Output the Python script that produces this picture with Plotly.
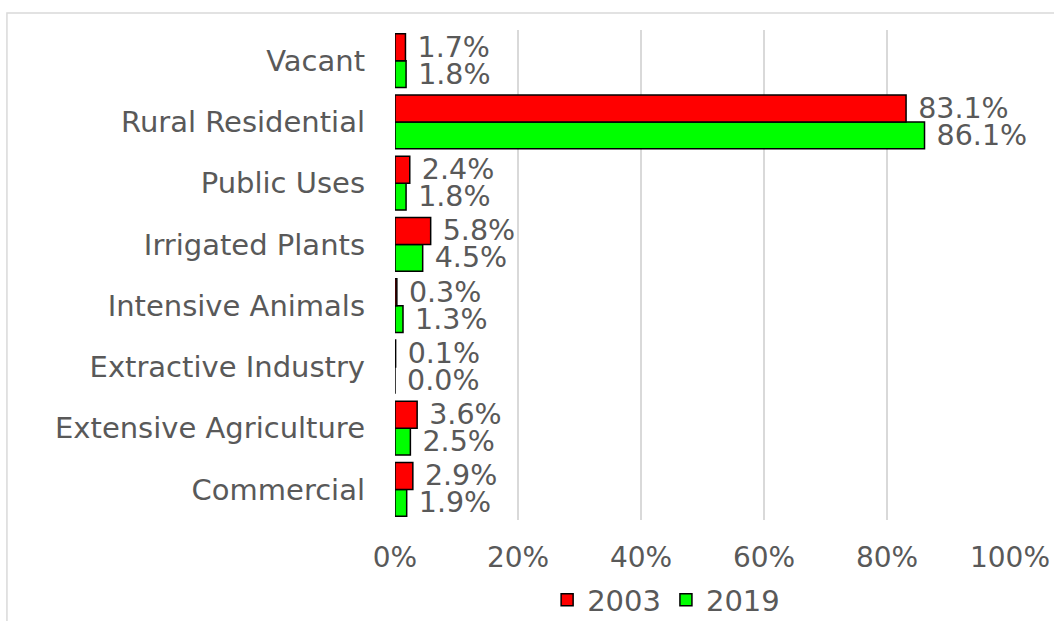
import plotly.graph_objects as go

categories = ["Commercial", "Extensive Agriculture", "Extractive Industry",
              "Intensive Animals", "Irrigated Plants", "Public Uses",
              "Rural Residential", "Vacant"]
values_2003 = [2.9, 3.6, 0.1, 0.3, 5.8, 2.4, 83.1, 1.7]
values_2019 = [1.9, 2.5, 0.0, 1.3, 4.5, 1.8, 86.1, 1.8]
tick_vals = [0, 20, 40, 60, 80, 100]
tick_text = ["0%", "20%", "40%", "60%", "80%", "100%"]

FONT = "DejaVu Sans"
TXT = "#595959"
LABEL = "\u00a0%{x:.1f}%"

fig = go.Figure()
fig.add_trace(go.Bar(
    y=categories, x=values_2019, orientation="h", name="2019",
    marker=dict(color="#00FF00", line=dict(color="#000000", width=1.5)),
    texttemplate=LABEL, textposition="outside", cliponaxis=False,
    constraintext="none", textfont=dict(family=FONT, size=28.5, color=TXT),
    legendrank=2, hoverinfo="skip",
))
fig.add_trace(go.Bar(
    y=categories, x=values_2003, orientation="h", name="2003",
    marker=dict(color="#FF0000", line=dict(color="#000000", width=1.5)),
    texttemplate=LABEL, textposition="outside", cliponaxis=False,
    constraintext="none", textfont=dict(family=FONT, size=28.5, color=TXT),
    legendrank=1, hoverinfo="skip",
))

fig.update_layout(
    width=1054, height=621,
    margin=dict(l=395, r=44, t=30, b=101, autoexpand=False),
    paper_bgcolor="white", plot_bgcolor="white",
    barmode="group", bargap=0.12, bargroupgap=0,
    font=dict(family=FONT, size=29, color=TXT),
    showlegend=True,
    legend=dict(orientation="h", xref="container", yref="container",
                x=0.632, xanchor="center", y=0.034, yanchor="middle",
                font=dict(family=FONT, size=29, color=TXT),
                itemwidth=30, tracegroupgap=0),
    shapes=[dict(type="rect", xref="paper", yref="paper",
                 x0=-0.631, x1=1.1, y0=-0.3, y1=1.0347,
                 line=dict(color="#D9D9D9", width=1.5), layer="below")],
)
fig.update_xaxes(range=[0, 100], tickvals=tick_vals, ticktext=tick_text,
                 showgrid=True, gridcolor="#D9D9D9", gridwidth=1.5,
                 zeroline=False, showline=False, ticks="",
                 ticklabelstandoff=18,
                 tickfont=dict(family=FONT, size=28, color=TXT))
fig.update_yaxes(categoryorder="array", categoryarray=categories,
                 showgrid=False, zeroline=False, showline=False, ticks="",
                 ticklabelstandoff=29,
                 tickfont=dict(family=FONT, size=29, color=TXT))

fig.write_html("out.html", config={"displayModeBar": False},
               post_script="document.body.style.margin='0px';")
